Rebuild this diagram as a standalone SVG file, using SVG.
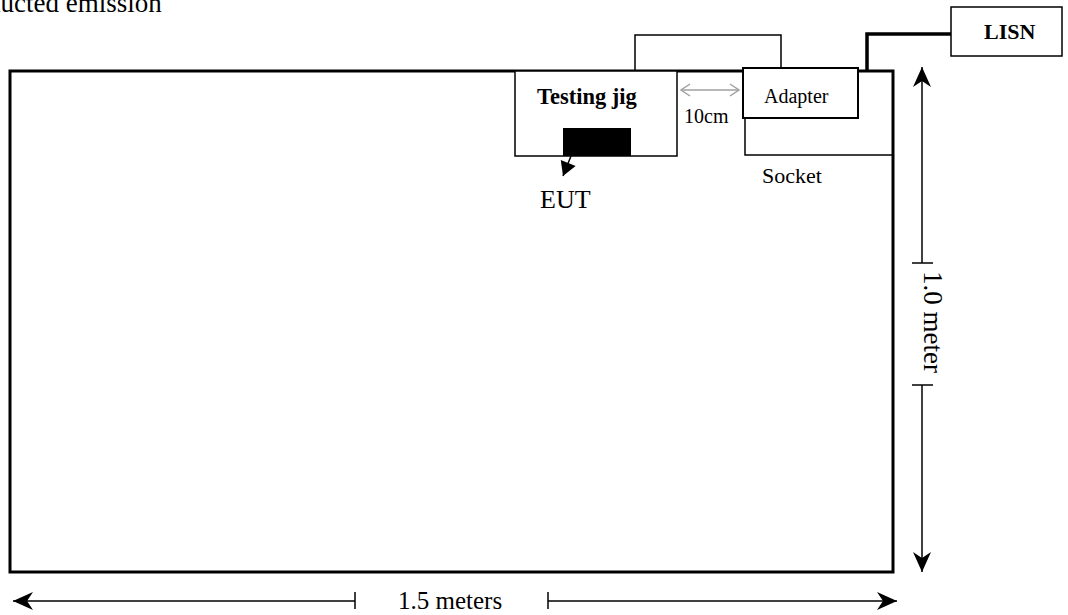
<svg xmlns="http://www.w3.org/2000/svg" width="1068" height="615" viewBox="0 0 1068 615">
<style>
  .t{font-family:"Liberation Serif","Times New Roman",serif;fill:#000}
  .b{font-weight:bold}
  .box{fill:#fff;stroke:#000;stroke-width:1.5}
  .ln{stroke:#000;stroke-width:1.5;fill:none}
  .gr{stroke:#a0a0a0;stroke-width:1.5;fill:none}
</style>
<defs>
  <marker id="ah" markerUnits="userSpaceOnUse" markerWidth="24" markerHeight="24" viewBox="-22 -11 24 22" refX="0" refY="0" orient="auto">
    <path d="M0,0 L-20,-9 L-14,0 L-20,9 Z" fill="#000"/>
  </marker>
  <marker id="ag" markerUnits="userSpaceOnUse" markerWidth="14" markerHeight="14" viewBox="-12 -7 14 14" refX="0" refY="0" orient="auto">
    <path d="M-9,-6 L0,0 L-9,6" fill="none" stroke="#a0a0a0" stroke-width="1.5"/>
  </marker>
  <marker id="at" markerUnits="userSpaceOnUse" markerWidth="20" markerHeight="20" viewBox="-16 -10 20 20" refX="0" refY="0" orient="auto">
    <path d="M0,0 L-14,-8 L-14,8 Z" fill="#000"/>
  </marker>
</defs>

<text class="t" x="-58" y="12" font-size="27">Conducted emission</text>

<g id="table">
  <rect x="10" y="71" width="883" height="501" fill="none" stroke="#000" stroke-width="3"/>
</g>

<g id="top-box">
  <path class="ln" d="M635,70 L635,35 L781,35 L781,70"/>
</g>

<g id="testing-jig">
  <rect class="box" x="515" y="71" width="162" height="85"/>
  <text class="t b" x="537" y="104" font-size="22.5">Testing jig</text>
</g>

<g id="eut">
  <rect x="563" y="128" width="68" height="28" fill="#000"/>
  <text class="t" x="540" y="208" font-size="26">EUT</text>
</g>

<g id="socket">
  <path class="ln" d="M745,71 L745,155 L893,155"/>
  <text class="t" x="762" y="183" font-size="22">Socket</text>
</g>

<g id="adapter">
  <rect x="743" y="68" width="115" height="50" fill="#fff" stroke="#000" stroke-width="2"/>
  <text class="t" x="764" y="103" font-size="20">Adapter</text>
</g>

<g id="lisn">
  <rect class="box" x="951" y="7" width="111" height="49"/>
  <text class="t b" x="984" y="39" font-size="22">LISN</text>
</g>

<g id="connectors">
  <path d="M867,71 L867,34 L951,34" fill="none" stroke="#000" stroke-width="3.5"/>
  <line x1="571" y1="156" x2="563" y2="176" stroke="#000" stroke-width="1.5" marker-end="url(#at)"/>
  <line class="gr" x1="710" y1="90" x2="681" y2="90" marker-end="url(#ag)"/>
  <line class="gr" x1="710" y1="90" x2="739" y2="90" marker-end="url(#ag)"/>
  <text class="t" x="684" y="123" font-size="20">10cm</text>

  <line class="ln" x1="922" y1="263" x2="922" y2="67" marker-end="url(#ah)"/>
  <line class="ln" x1="912" y1="263" x2="933" y2="263"/>
  <line class="ln" x1="922" y1="385" x2="922" y2="572" marker-end="url(#ah)"/>
  <line class="ln" x1="912" y1="385" x2="933" y2="385"/>
  <text class="t" font-size="27" transform="translate(924,271) rotate(90)">1.0 meter</text>

  <line class="ln" x1="355" y1="601" x2="13" y2="601" marker-end="url(#ah)"/>
  <line class="ln" x1="355" y1="592" x2="355" y2="609"/>
  <line class="ln" x1="548" y1="601" x2="897" y2="601" marker-end="url(#ah)"/>
  <line class="ln" x1="548" y1="592" x2="548" y2="609"/>
  <text class="t" x="398" y="609" font-size="25">1.5 meters</text>
</g>
</svg>
